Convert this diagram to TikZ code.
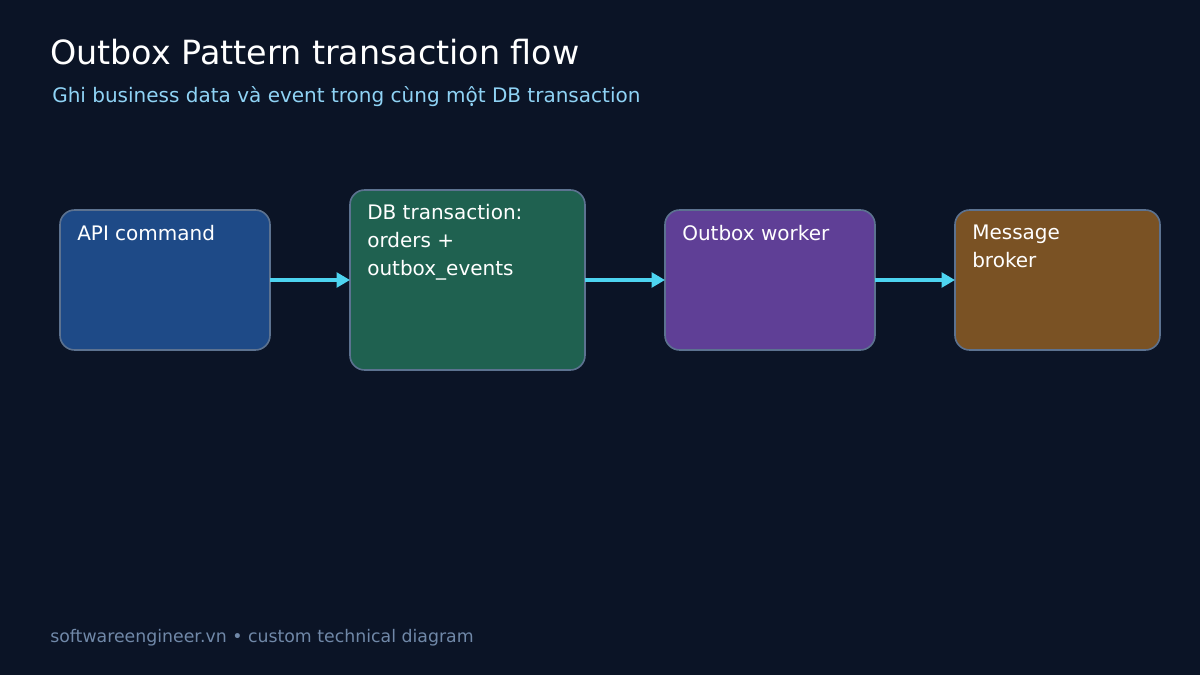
\documentclass[tikz,border=0pt]{standalone}
\usepackage{fontspec}
\setmainfont{DejaVu Sans}
\usetikzlibrary{arrows.meta}
\definecolor{bgc}{HTML}{0B1426}
\definecolor{edgec}{HTML}{5C7290}
\definecolor{apic}{HTML}{1E4A87}
\definecolor{dbc}{HTML}{1F6150}
\definecolor{workc}{HTML}{5F3F96}
\definecolor{brokc}{HTML}{7A5224}
\definecolor{arrc}{HTML}{4DD4F0}
\definecolor{subc}{HTML}{8FD3F5}
\definecolor{footc}{HTML}{7088A8}
\tikzset{
  box/.style={draw=edgec, line width=1.2pt, rounded corners=11pt},
  boxtext/.style={anchor=north west, inner sep=0pt, align=left, text=white,
    font=\fontsize{15}{21}\selectfont},
  flow/.style={draw=arrc, line width=2.4pt, -{Triangle[length=10pt,width=11pt]}}
}
\begin{document}
\begin{tikzpicture}[x=0.75pt, y=-0.75pt]
    \fill[bgc] (0,0) rectangle (1200,675);
    \useasboundingbox (0,0) rectangle (1200,675);

    % titles
    \node[anchor=base west, inner sep=0pt, text=white, font=\fontsize{25}{30}\selectfont]
        (title) at (50,64) {Outbox Pattern transaction flow};
    \node[anchor=base west, inner sep=0pt, text=subc, font=\fontsize{15}{18}\selectfont]
        (sub) at (52,102) {Ghi business data và event trong cùng một DB transaction};

    % boxes
    \path[box, fill=apic] (60,210) rectangle (270,350);
    \path[box, fill=dbc] (350,190) rectangle (585,370);
    \path[box, fill=workc] (665,210) rectangle (875,350);
    \path[box, fill=brokc] (955,210) rectangle (1160,350);
    \coordinate (api) at (270,280);
    \coordinate (dbin) at (350,280);
    \coordinate (dbout) at (585,280);
    \coordinate (wkin) at (665,280);
    \coordinate (wkout) at (875,280);
    \coordinate (brin) at (955,280);

    \node[boxtext] (apit) at (77,225) {API command};
    \node[boxtext] (dbt) at (367,204) {DB transaction:\\orders +\\outbox\_events};
    \node[boxtext] (wkt) at (682,225) {Outbox worker};
    \node[boxtext] (brt) at (972,225) {Message\\broker};

    % arrows
    \draw[flow] (api) -- (dbin);
    \draw[flow] (dbout) -- (wkin);
    \draw[flow] (wkout) -- (brin);

    % footer
    \node[anchor=base west, inner sep=0pt, text=footc, font=\fontsize{13}{16}\selectfont]
        (foot) at (50,642) {softwareengineer.vn • custom technical diagram};
\end{tikzpicture}
\end{document}
